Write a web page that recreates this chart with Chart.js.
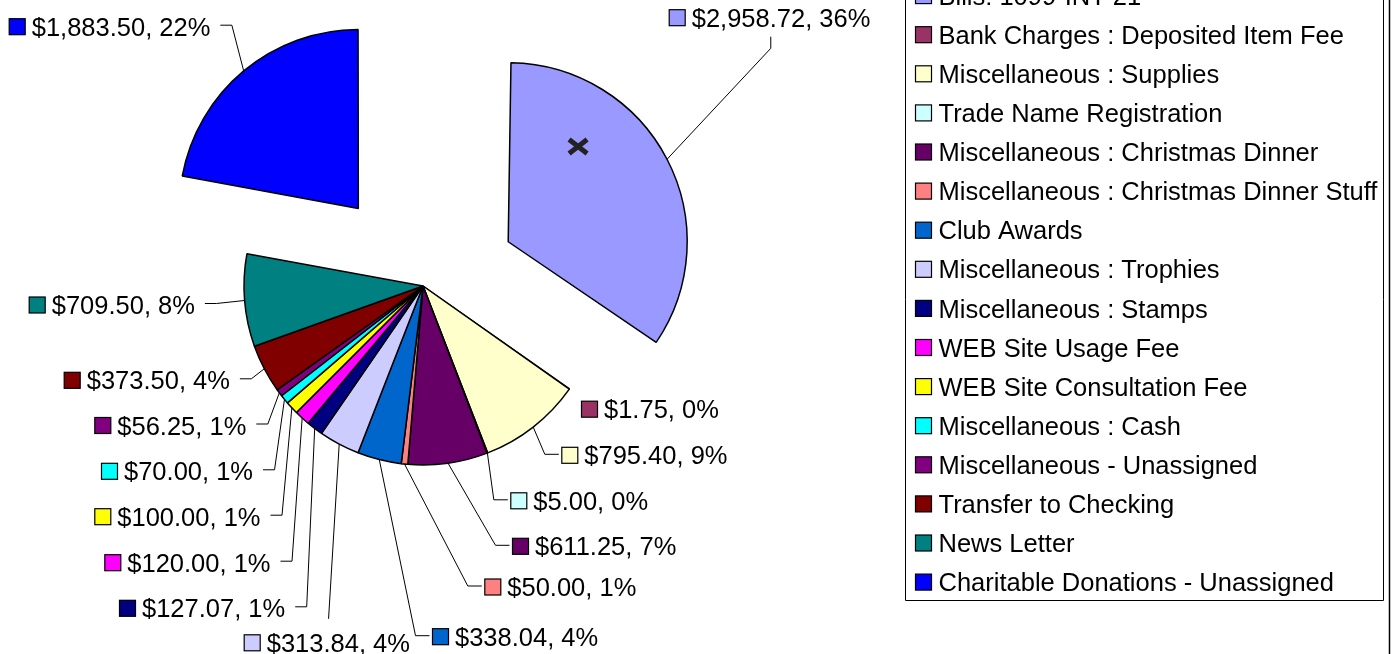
<!DOCTYPE html>
<html><head><meta charset="utf-8">
<script src="https://cdn.jsdelivr.net/npm/chart.js@4/dist/chart.umd.min.js"></script>
<style>html,body{margin:0;padding:0;background:#fff;overflow:hidden}</style>
</head><body>
<canvas id="c" width="1392" height="654" style="display:block;width:1392px;height:654px"></canvas>
<script>
// ---- data ----
const categories = [
  "Bills: 1099-INT 21",
  "Bank Charges : Deposited Item Fee",
  "Miscellaneous : Supplies",
  "Trade Name Registration",
  "Miscellaneous : Christmas Dinner",
  "Miscellaneous : Christmas Dinner Stuff",
  "Club Awards",
  "Miscellaneous : Trophies",
  "Miscellaneous : Stamps",
  "WEB Site Usage Fee",
  "WEB Site Consultation Fee",
  "Miscellaneous : Cash",
  "Miscellaneous - Unassigned",
  "Transfer to Checking",
  "News Letter",
  "Charitable Donations - Unassigned"
];
const amounts = [2958.72, 1.75, 795.40, 5.00, 611.25, 50.00, 338.04, 313.84, 127.07, 120.00, 100.00, 70.00, 56.25, 373.50, 709.50, 1883.50];
const percentLabels = ["36%","0%","9%","0%","7%","1%","4%","4%","1%","1%","1%","1%","1%","4%","8%","22%"];

// ---- styles / layout ----
const sliceColors = ["#9999FF","#993366","#FFFFCC","#CCFFFF","#660066","#FF8080","#0066CC","#CCCCFF",
  "#000080","#FF00FF","#FFFF00","#00FFFF","#800080","#800000","#008080","#0000FF"];
const explodePx = [96,0,0,0,0,0,0,0,0,0,0,0,0,0,0,101];
const labelTextX = [691.7,604,584.3,533.3,535,507.3,455,266.7,142,127.3,117.3,124,117.3,86.7,51.7,31.7];
const labelMidY  = [17.7,409.2,455.3,500.8,546.3,587,636.7,642.8,608.3,562.7,516.7,471.3,425.5,380.3,305,26.7];
const leaderSide = ["B","","L","L","L","L","L","T","R","R","R","R","R","R","R","R"];
const FONT_PX = 25.5;
const FONT = FONT_PX + 'px "Liberation Sans", Arial, sans-serif';

function money(v){ return '$' + v.toLocaleString('en-US',{minimumFractionDigits:2,maximumFractionDigits:2}); }

// keep the exploded slices at the same radius as the rest
const keepRadius = {
  id:'keepRadius',
  beforeDatasetDraw(chart){
    const meta = chart.getDatasetMeta(0);
    const R = meta.controller.outerRadius;
    meta.data.forEach((el,i)=>{
      const o = explodePx[i];
      if(!o) return;
      const fix = 1 - Math.sin(Math.min(Math.PI, el.circumference || 0));
      el.outerRadius = R - o*fix;
    });
  }
};

const labelPlugin = {
  id:'pieLabels',
  afterDatasetsDraw(chart){
    const ctx = chart.ctx;
    const meta = chart.getDatasetMeta(0);
    const R = meta.controller.outerRadius;
    ctx.save();
    ctx.font = FONT;
    ctx.textBaseline = 'alphabetic';
    meta.data.forEach((el,i)=>{
      const h = (el.startAngle + el.endAngle)/2;
      const o = explodePx[i];
      const ax = el.x + Math.cos(h)*(o+R), ay = el.y + Math.sin(h)*(o+R);
      const txt = money(amounts[i]) + ', ' + percentLabels[i];
      const tx = labelTextX[i], cy = labelMidY[i];
      const tw = ctx.measureText(txt).width;
      const sqL = tx - 22.5;
      // leader
      const side = leaderSide[i];
      let pts = null;
      if(side==='R'){ const px = tx+tw+10; pts = [[px,cy-1.5],[px+11.5,cy-1.5],[ax,ay]]; }
      else if(side==='L'){ const px = sqL-3; pts = [[px,cy-1],[px-14,cy-1],[ax,ay]]; }
      else if(side==='T'){ const px = (sqL+tx+tw)/2+1.5; pts = [[px,cy-24],[ax,ay]]; }
      else if(side==='B'){ const px = (sqL+tx+tw)/2+1; pts = [[px,cy+19],[px,cy+30.6],[ax,ay]]; }
      if(pts){
        ctx.beginPath();
        ctx.strokeStyle = '#000'; ctx.lineWidth = 1;
        ctx.moveTo(pts[0][0],pts[0][1]);
        for(let k=1;k<pts.length;k++) ctx.lineTo(pts[k][0],pts[k][1]);
        ctx.stroke();
      }
      // key square
      ctx.fillStyle = sliceColors[i];
      ctx.fillRect(sqL, cy-8, 16, 16);
      ctx.strokeStyle = '#000'; ctx.lineWidth = 1.2;
      ctx.strokeRect(sqL, cy-8, 16, 16);
      ctx.fillStyle = '#000';
      ctx.fillText(txt, tx, cy + FONT_PX*0.358);
    });
    // the "x" mark inside the first slice
    const e0 = meta.data[0];
    const a = e0.startAngle + 0.29*(e0.endAngle - e0.startAngle);
    const h0 = (e0.startAngle + e0.endAngle)/2;
    const mx = e0.x + Math.cos(h0)*explodePx[0] + Math.cos(a)*0.66*R;
    const my = e0.y + Math.sin(h0)*explodePx[0] + Math.sin(a)*0.66*R;
    ctx.strokeStyle = '#222'; ctx.lineWidth = 5; ctx.lineCap = 'butt';
    ctx.beginPath();
    ctx.moveTo(mx-9,my-7); ctx.lineTo(mx+9,my+7);
    ctx.moveTo(mx+9,my-7); ctx.lineTo(mx-9,my+7);
    ctx.stroke();
    ctx.restore();
  }
};

const legendPlugin = {
  id:'boxLegend',
  afterDraw(chart){
    const ctx = chart.ctx;
    ctx.save();
    ctx.strokeStyle = '#000'; ctx.lineWidth = 1;
    ctx.fillStyle = '#fff';
    ctx.beginPath();
    ctx.moveTo(905.5,-10); ctx.lineTo(905.5,600.5); ctx.lineTo(1383.5,600.5); ctx.lineTo(1383.5,-10);
    ctx.stroke();
    ctx.lineWidth = 1.5;
    ctx.beginPath(); ctx.moveTo(1389.5,0); ctx.lineTo(1389.5,654); ctx.stroke();
    ctx.font = FONT;
    ctx.textBaseline = 'alphabetic';
    categories.forEach((name,i)=>{
      const cy = -4.4 + i*39.1;
      ctx.fillStyle = sliceColors[i];
      ctx.fillRect(915.5, cy-8, 16, 16);
      ctx.strokeStyle = '#000'; ctx.lineWidth = 1.2;
      ctx.strokeRect(915.5, cy-8, 16, 16);
      ctx.fillStyle = '#000';
      ctx.fillText(name, 938.5, cy + FONT_PX*0.358);
    });
    ctx.restore();
  }
};

new Chart(document.getElementById('c'), {
  type:'pie',
  data:{
    labels: categories,
    datasets:[{
      data: amounts,
      backgroundColor: sliceColors,
      borderColor: '#000',
      borderWidth: 1.5,
      offset: explodePx.map(v=>v*4),
      hoverOffset: 0,
      radius: 179
    }]
  },
  options:{
    responsive:false,
    animation:false,
    events:[],
    layout:{padding:{left:0,right:546,top:0,bottom:82}},
    plugins:{legend:{display:false}, tooltip:{enabled:false}, title:{display:false}}
  },
  plugins:[keepRadius, labelPlugin, legendPlugin]
});
</script>
</body></html>
